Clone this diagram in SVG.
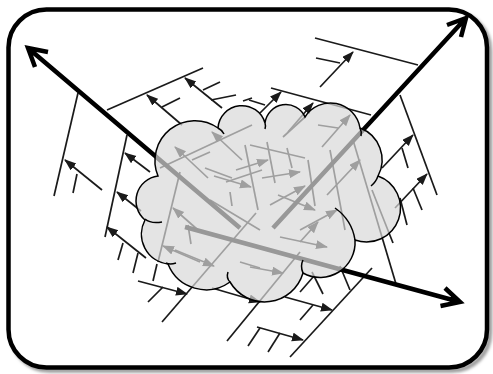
<svg xmlns="http://www.w3.org/2000/svg" width="493" height="374" viewBox="0 0 493 374">
<defs>
<marker id="ah" markerUnits="userSpaceOnUse" markerWidth="13" markerHeight="10" refX="11" refY="4.5" orient="auto">
<path d="M0,0 L12,4.5 L0,9 z" fill="#1a1a1a"/>
</marker>
<filter id="sh" x="-5%" y="-5%" width="110%" height="110%"><feGaussianBlur stdDeviation="1.5"/></filter>
</defs>
<style>
.ln{stroke:#1a1a1a;stroke-width:1.7;fill:none;stroke-linecap:butt}
.ar{stroke:#1a1a1a;stroke-width:1.7;fill:none;marker-end:url(#ah)}
.big{stroke:#000;stroke-width:4.5;fill:none;stroke-linejoin:miter;stroke-miterlimit:10}
.cloud{fill:#d8d8d8;fill-opacity:0.7;stroke:#000;stroke-width:1.5}
.tail{fill:none;stroke:#000;stroke-width:1.5}
</style>
<rect width="493" height="374" fill="#fff"/>
<rect x="11.5" y="12.5" width="478.5" height="358" rx="38" fill="none" stroke="#9a9a9a" stroke-width="4.5" filter="url(#sh)"/>
<rect x="8.5" y="9.5" width="478.5" height="358" rx="38" fill="#fff" stroke="#000" stroke-width="4.5"/>

<g id="fishbones">
<path class="ln" d="M107,110 L203,68"/>
<path class="ar" d="M182,125 L147,95"/>
<path class="ln" d="M162,107 L180,98"/>
<path class="ar" d="M222,108 L185,78"/>
<path class="ln" d="M203,90 L220,82"/>
<path class="ln" d="M211,100 L236,95"/>
<path class="ln" d="M243,101 L252,98"/>
<path class="ln" d="M78,93 L54,196"/>
<path class="ar" d="M102,190 L65,160"/>
<path class="ln" d="M77,174 L73,193"/>
<path class="ln" d="M127,135 L105,237"/>
<path class="ar" d="M150,172 L125,153"/>
<path class="ar" d="M141,211 L117,192"/>
<path class="ar" d="M146,258 L107,227"/>
<path class="ln" d="M123,243 L118,260"/>
<path class="ln" d="M138,253 L133,273"/>
<path class="ln" d="M157,264 L153,281"/>
<path class="ar" d="M138,281 L187,294"/>
<path class="ln" d="M163,287 L148,302"/>
<path class="ln" d="M162,322 L256,213"/>
<path class="ar" d="M212,288 L260,302"/>
<path class="ln" d="M227,341 L300,252"/>
<path class="ar" d="M285,297 L332,310"/>
<path class="ln" d="M313,305 L300,320"/>
<path class="ln" d="M290,357 L372,268"/>
<path class="ar" d="M257,327 L303,340"/>
<path class="ln" d="M260,328 L248,346"/>
<path class="ln" d="M280,333 L268,352"/>
<path class="ln" d="M300,292 L314,276"/>
<path class="ln" d="M312,272 L323,294"/>
<path class="ln" d="M340,266 L350,290"/>
<path class="ln" d="M400,95 L437,195"/>
<path class="ar" d="M382,168 L413,135"/>
<path class="ln" d="M402,148 L408,168"/>
<path class="ar" d="M395,208 L427,174"/>
<path class="ln" d="M400,198 L407,225"/>
<path class="ln" d="M413,188 L422,210"/>
<path class="ln" d="M353,140 L396,284"/>
<path class="ln" d="M372,190 L393,243"/>
<path class="ln" d="M315,38 L418,65"/>
<path class="ar" d="M320,87 L353,52"/>
<path class="ln" d="M316,58 L340,63"/>
<path class="ln" d="M271,88 L371,115"/>
<path class="ar" d="M260,113 L281,92"/>
<path class="ln" d="M249,100 L265,105"/>
<path class="ar" d="M288,132 L313,103"/>
<path class="ln" d="M160,168 L252,125"/>
<path class="ar" d="M208,178 L175,147"/>
<path class="ln" d="M192,160 L210,152"/>
<path class="ar" d="M242,160 L212,132"/>
<path class="ln" d="M205,168 L232,178"/>
<path class="ln" d="M180,172 L158,262"/>
<path class="ar" d="M198,230 L173,208"/>
<path class="ln" d="M188,225 L191,244"/>
<path class="ar" d="M200,262 L163,246"/>
<path class="ar" d="M175,250 L214,266"/>
<path class="ln" d="M245,145 L258,210"/>
<path class="ar" d="M214,176 L251,187"/>
<path class="ln" d="M226,182 L262,170"/>
<path class="ln" d="M250,145 L305,158"/>
<path class="ar" d="M236,170 L268,160"/>
<path class="ln" d="M267,142 L275,183"/>
<path class="ln" d="M287,148 L292,168"/>
<path class="ar" d="M262,178 L300,172"/>
<path class="ln" d="M308,160 L315,206"/>
<path class="ar" d="M270,205 L305,186"/>
<path class="ar" d="M327,195 L360,160"/>
<path class="ar" d="M300,242 L318,222"/>
<path class="ar" d="M280,237 L327,247"/>
<path class="ar" d="M278,195 L315,210"/>
<path class="ar" d="M250,267 L283,273"/>
<path class="ln" d="M240,262 L260,268"/>
<path class="ln" d="M318,125 L338,128"/>
<path class="ar" d="M322,147 L350,115"/>
<path class="ln" d="M283,137 L305,117"/>
<path class="ln" d="M330,150 L345,230"/>
<path class="ar" d="M300,230 L337,210"/>
<path class="ln" d="M230,192 L232,206"/>
<path class="ln" d="M210,200 L260,230"/>
</g>

<g id="big-arrows">
<path class="big" d="M240,228 L28,48 M35,67 L28,48 L48,52"/>
<path class="big" d="M273,228 L466,18 M447,25 L466,18 L461,37"/>
<path class="big" d="M185,227 L460,302 M445,288 L460,302 L440.5,306"/>
</g>

<g id="cloud">
<path class="cloud" d="M158,176 A40,40 0 0,1 218,128 A24,24 0 0,1 265,123 A21,21 0 0,1 305,117 A30,30 0 0,1 360,128 A34,34 0 0,1 378,176 A30,30 0 0,1 355,240 A35,35 0 0,1 303,273 A40,40 0 0,1 230,282 A41,41 0 0,1 168,264 A30,30 0 0,1 145,220 A25,25 0 0,1 158,176 Z"/>
<path class="tail" d="M145,219 Q151,224 162,222"/>
<path class="tail" d="M166,263 Q170,265 176,263"/>
<path class="tail" d="M230,282 Q226,278 228,272"/>
<path class="tail" d="M303,273 Q300,266 303,260"/>
<path class="tail" d="M335,208 Q352,220 355,240"/>
<path class="tail" d="M378,176 Q376,182 371,186"/>
<path class="tail" d="M218,128 Q222,130 224,134"/>
<path class="tail" d="M265,123 Q266,126 265,129"/>
<path class="tail" d="M360,128 Q362,132 361,136"/>
</g>
</svg>
